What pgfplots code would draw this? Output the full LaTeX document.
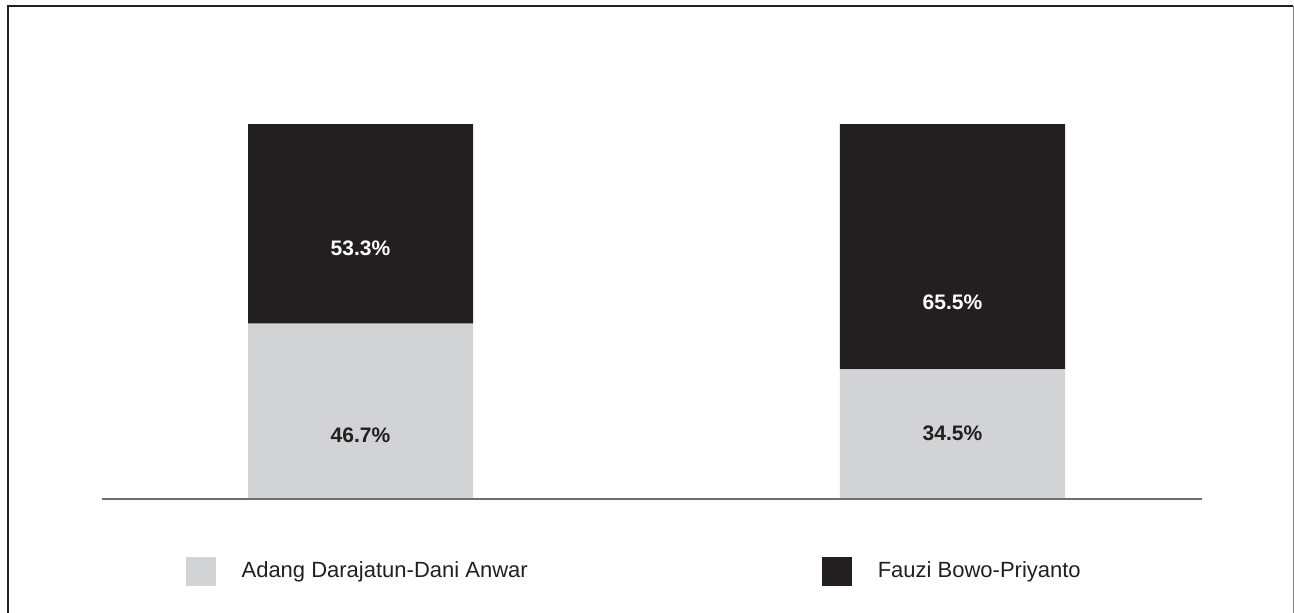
\documentclass[border=0pt]{standalone}
\usepackage{pgfplots}
\pgfplotsset{compat=1.18}
\usepackage{fontspec}
\setmainfont{Liberation Sans}
\definecolor{darkbar}{HTML}{231F20}
\definecolor{lightbar}{HTML}{D1D3D4}
\definecolor{baseln}{HTML}{6D6E71}
\tikzset{barlab/.style={font=\fontsize{10.5pt}{12pt}\selectfont\bfseries}}
\begin{document}
\begin{tikzpicture}
\useasboundingbox (0,0) rectangle (647pt,306pt);
% frame
\draw[darkbar, line width=1pt] (4.15pt,-5pt) -- (4.15pt,303pt) -- (646.6pt,303pt);
\draw[gray, line width=0.6pt] (646.6pt,303pt) -- (646.6pt,-5pt);
\begin{axis}[
  at={(51pt,56.75pt)}, anchor=south west,
  scale only axis, width=550pt, height=187.25pt,
  xmin=-0.4367, xmax=1.4215, ymin=0, ymax=100,
  axis lines=none, clip=false,
  ybar stacked, bar width=112.5pt,
  xtick=\empty, ytick=\empty,
  legend columns=2,
  legend image code/.code={\fill[#1] (0pt,-7.25pt) rectangle (15pt,7.25pt);},
  legend style={draw=none, fill=none, at={(axis description cs:0.076,-0.1936)}, anchor=west,
    inner sep=0pt, outer sep=0pt,
    font=\fontsize{11pt}{13pt}\selectfont, text=darkbar,
    nodes={inner sep=0pt, outer sep=0pt},
    /tikz/every odd column/.append style={column sep=13pt},
    /tikz/every even column/.append style={column sep=147pt}},
  legend cell align=left,
  after end axis/.code={
    \draw[baseln, line width=1pt] (rel axis cs:0,0) -- (rel axis cs:1,0);
    \node[barlab, white] at (axis cs:0,66.9) {53.3\%};
    \node[barlab, darkbar] at (axis cs:0,17.0) {46.7\%};
    \node[barlab, white] at (axis cs:1,52.5) {65.5\%};
    \node[barlab, darkbar] at (axis cs:1,17.5) {34.5\%};
  },
]
\addplot[fill=lightbar, draw=none] coordinates {(0,46.7) (1,34.5)};
\addlegendentry{Adang Darajatun-Dani Anwar}
\addplot[fill=darkbar, draw=none] coordinates {(0,53.3) (1,65.5)};
\addlegendentry{Fauzi Bowo-Priyanto}
\end{axis}
\end{tikzpicture}
\end{document}
